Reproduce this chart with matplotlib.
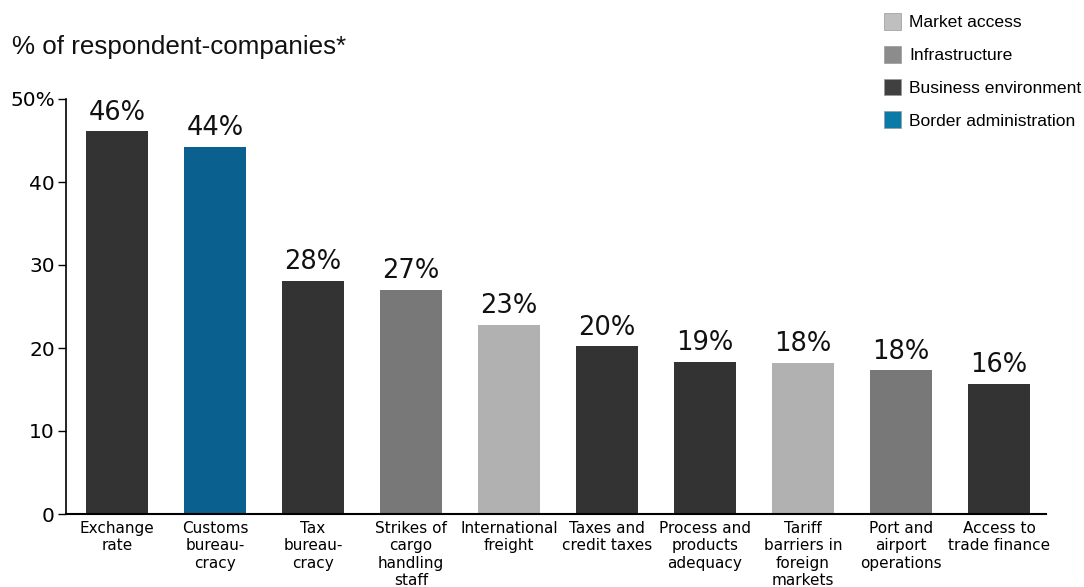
import matplotlib
matplotlib.use("Agg")
import matplotlib.pyplot as plt
from matplotlib.patches import Patch

categories = ["Exchange\nrate", "Customs\nbureau-\ncracy", "Tax\nbureau-\ncracy",
              "Strikes of\ncargo\nhandling\nstaff", "International\nfreight",
              "Taxes and\ncredit taxes", "Process and\nproducts\nadequacy",
              "Tariff\nbarriers in\nforeign\nmarkets", "Port and\nairport\noperations",
              "Access to\ntrade finance"]
values = [46.1, 44.2, 28.1, 27.0, 22.8, 20.2, 18.3, 18.2, 17.3, 15.7]
labels = ["46%", "44%", "28%", "27%", "23%", "20%", "19%", "18%", "18%", "16%"]
groups = ["Business environment", "Border administration", "Business environment",
          "Infrastructure", "Market access", "Business environment",
          "Business environment", "Market access", "Infrastructure",
          "Business environment"]
legend_names = ["Market access", "Infrastructure", "Business environment", "Border administration"]

bar_colors = {"Market access": "#b1b1b1", "Infrastructure": "#787878",
              "Business environment": "#333333", "Border administration": "#0a6190"}
legend_colors = {"Market access": "#bfbfbf", "Infrastructure": "#8c8c8c",
                 "Business environment": "#404040", "Border administration": "#0a7aa8"}

fig = plt.figure(figsize=(10.84, 5.87), dpi=100)
ax = fig.add_axes([66/1084, 1-514/587, (1046-66)/1084, (514-99)/587])

x = range(len(categories))
ax.bar(x, values, width=0.63, color=[bar_colors[g] for g in groups], zorder=2)
for i, (v, l) in enumerate(zip(values, labels)):
    ax.text(i, v + 0.7, l, ha="center", va="bottom", fontsize=18.5,
            family="DejaVu Sans", color="#111111")

ax.set_xlim(-0.52, 9.48)
ax.set_ylim(0, 50)
ax.set_yticks([0, 10, 20, 30, 40, 50])
ax.set_yticklabels(["0", "10", "20", "30", "40", "50%"], fontsize=14.5, family="DejaVu Sans")
ax.set_xticks(list(x))
ax.set_xticklabels(categories, fontsize=11, family="DejaVu Sans", linespacing=1.2)
ax.tick_params(axis="x", length=0, pad=5)
ax.tick_params(axis="y", length=6, width=1, pad=2)
for s in ["top", "right"]:
    ax.spines[s].set_visible(False)
ax.spines["left"].set_linewidth(1.2)
ax.spines["bottom"].set_linewidth(1.5)

fig.text(12/1084, 1-47/587, "% of respondent-companies*", fontsize=18.7,
         family="Liberation Sans", va="center", ha="left", color="#111111")

handles = [Patch(facecolor=legend_colors[n], edgecolor="#999999", linewidth=0.5) for n in legend_names]
fig.legend(handles, legend_names, loc="upper left", bbox_to_anchor=(884/1084, 1-13/587),
           frameon=False, prop={"family": "Liberation Sans", "size": 12.6},
           handlelength=1.0, handleheight=1.1, handletextpad=0.45, labelspacing=0.88,
           borderpad=0, borderaxespad=0)

fig.savefig("out.png", dpi=100)
